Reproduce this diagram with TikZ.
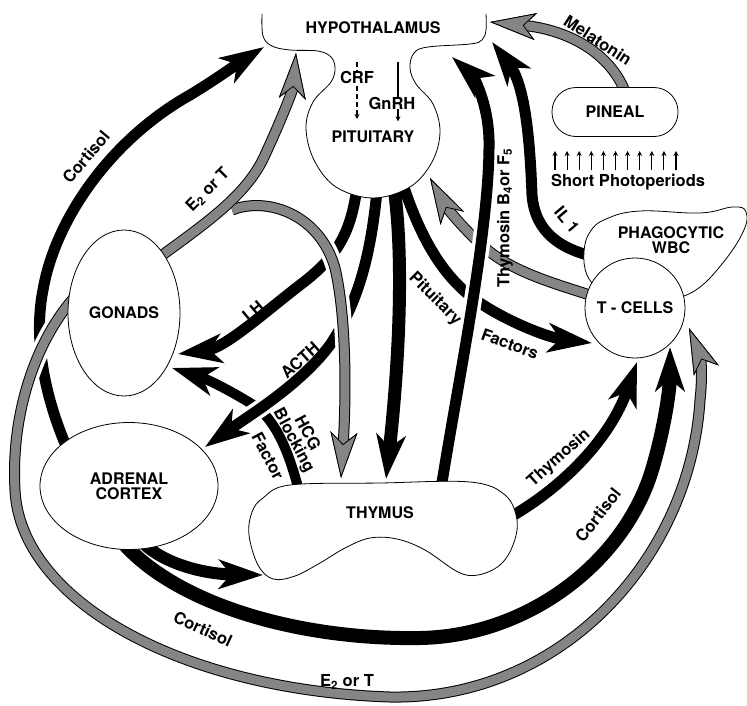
\documentclass[tikz,border=0pt]{standalone}
\usepackage{fontspec}
\setmainfont{TeX Gyre Heros}
\usetikzlibrary{arrows.meta,shapes.geometric}
\colorlet{hatch}{black!48}

\begin{document}
\begin{tikzpicture}[x=1pt, y=-1pt,
  organ/.style={font=\bfseries\fontsize{16}{15}\selectfont, align=center, inner sep=0pt},
  lab/.style={font=\bfseries\fontsize{16.5}{15}\selectfont, align=center, inner sep=0pt},
  body/.style={draw, fill=white, line width=0.8pt},
  band/.style={line width=#1, -{Stealth[length=44pt, width=29pt, inset=12pt]}},
  band/.default=11pt,
  greyband/.style={line width=9pt, draw=hatch,
    -{Stealth[length=46pt, width=27pt, inset=12pt, color=black, fill=hatch, line width=0.8pt]},
    preaction={draw=black, line width=11pt, -{Stealth[length=46pt, width=27pt, inset=12pt, line width=0.8pt]}}},
  halo/.style={preaction={draw=white, line width=#1, -, shorten >=46pt}},
  halo/.default=18pt,
  tiny/.style={line width=1.1pt, -{Stealth[length=5pt, width=5pt]}}]
\useasboundingbox (0,0) rectangle (747,705);

\coordinate (cortA) at (70,455);
\coordinate (cortAtip) at (264,47);
\draw[band] (cortA) .. controls (45,400) and (33,340) .. (43,290) .. controls (55,220) and (110,140) .. (190,95) .. controls (215,80) and (240,62) .. (cortAtip);

\coordinate (outA) at (90,282);
\coordinate (outAtip) at (689,328);
\draw[halo, greyband] (outA) .. controls (45,320) and (10,400) .. (15,490) .. controls (20,600) and (180,690) .. (390,697) .. controls (560,700) and (690,560) .. (700,400) .. controls (703,375) and (700,355) .. (outAtip);

\coordinate (cortB) at (140,540);
\coordinate (cortBtip) at (263,575);
\draw[band=12pt] (cortB) .. controls (160,562) and (200,574) .. (cortBtip);
\coordinate (cortC) at (125,545);
\coordinate (cortCtip) at (670,347);
\draw[band=14pt] (cortC) .. controls (180,605) and (300,640) .. (420,638) .. controls (530,636) and (625,560) .. (652,470) .. controls (664,430) and (670,390) .. (cortCtip);

\coordinate (hcg) at (300,495);
\coordinate (hcgtip) at (172,368);
\draw[band=10pt] (hcg) .. controls (290,455) and (278,425) .. (258,408) .. controls (240,396) and (210,380) .. (hcgtip);

\coordinate (lh) at (358,180);
\coordinate (lhtip) at (178,354);
\draw[band] (lh) .. controls (352,230) and (340,255) .. (300,285) .. controls (265,312) and (225,348) .. (lhtip);

\coordinate (acth) at (378,180);
\coordinate (acthtip) at (205,447);
\draw[halo, band] (acth) .. controls (372,250) and (360,300) .. (330,345) .. controls (300,385) and (250,415) .. (acthtip);

\coordinate (fork) at (232,210);
\coordinate (forktip) at (341,478);
\draw[halo, greyband] (fork) .. controls (268,196) and (320,215) .. (335,268) .. controls (347,320) and (346,400) .. (forktip);

\coordinate (est) at (145,268);
\coordinate (esttip) at (296,53);
\draw[greyband] (est) .. controls (195,230) and (245,200) .. (265,155) .. controls (282,118) and (293,90) .. (esttip);

\coordinate (pitthy) at (393,180);
\coordinate (pitthytip) at (386,479);
\draw[band=13pt] (pitthy) .. controls (407,270) and (395,400) .. (pitthytip);

\coordinate (fac) at (400,175);
\coordinate (factip) at (592,343);
\draw[band] (fac) .. controls (420,240) and (445,280) .. (480,303) .. controls (510,323) and (550,338) .. (factip);

\coordinate (tcpit) at (605,300);
\coordinate (tcpittip) at (430,178);
\draw[greyband] (tcpit) .. controls (560,285) and (520,275) .. (490,252) .. controls (465,232) and (445,205) .. (tcpittip);

\coordinate (tb) at (440,495);
\coordinate (tbtip) at (452,57);
\draw[halo, band] (tb) .. controls (458,380) and (490,230) .. (489,140) .. controls (488,100) and (472,75) .. (tbtip);

\coordinate (il) at (600,258);
\coordinate (iltip) at (492,42);
\draw[band] (il) .. controls (560,250) and (535,232) .. (532,195) .. controls (530,140) and (525,85) .. (iltip);

\coordinate (mel) at (628,100);
\coordinate (meltip) at (490,22);
\draw[greyband] (mel) .. controls (615,55) and (570,30) .. (meltip);

\coordinate (thm) at (505,520);
\coordinate (thmtip) at (637,362);
\draw[band] (thm) .. controls (560,490) and (610,440) .. (thmtip);

\draw[body] plot[smooth, tension=0.6] coordinates {(262,14) (263,36) (272,46) (290,50) (318,51) (331,57) (335,68) (331,82) (313,102) (306,128) (314,160) (336,187) (373,198) (410,187) (432,162) (440,132) (433,104) (416,84) (410,68) (414,53) (428,47) (470,44) (482,40) (486,30) (486,14)};
\draw[body] plot[smooth cycle, tension=0.6] coordinates {(263,498) (290,485) (380,483) (470,482) (505,495) (517,520) (513,545) (500,565) (478,575) (458,572) (425,550) (397,539) (370,538) (345,548) (320,563) (295,576) (273,579) (258,565) (249,535) (252,512)};
\draw[body] plot[smooth, tension=0.7] coordinates {(600,292) (587,275) (584,252) (590,232) (606,219) (640,211) (700,213) (733,207) (746,212) (743,232) (722,264) (696,290) (670,300)};

\node[organ, body, ellipse, minimum width=112pt, minimum height=166pt] (gon) at (124,313) {GONADS};
\node[organ, body, ellipse, minimum width=178pt, minimum height=127pt] (adr) at (129,486) {ADRENAL\\CORTEX};
\node[organ, body, rectangle, rounded corners=24pt, minimum width=126pt, minimum height=49pt] (pin) at (615,112) {PINEAL};
\node[organ, body, circle, minimum size=100pt] (tc) at (635,308) {T - CELLS};
\node[organ] (wbc) at (671,240) {PHAGOCYTIC\\WBC};
\node[organ] (hyp) at (373,28) {HYPOTHALAMUS};
\node[organ] (pit) at (373,137) {PITUITARY};
\node[organ] (thy) at (380,513) {THYMUS};

\coordinate (ctop) at (357,62);
\draw[tiny, dashed, dash pattern=on 5pt off 3pt] (ctop) -- (357,119);
\node[lab, fill=white] (crf) at (357,77) {CRF};
\node[lab] (gnrh) at (392,103) {GnRH};
\coordinate (gtop) at (398,62);
\draw[line width=1.1pt] (gtop) -- (gtop |- gnrh.north);
\draw[tiny] (gnrh.south -| gtop) -- ++(0,12);

\foreach \i in {0,...,10}
  \draw[tiny] (555+12.1*\i,170) -- (555+12.1*\i,151);
\node[lab] (sp) at (628,182) {Short Photoperiods};

\node[lab, rotate=50] (l1) at (86,157) {Cortisol};
\node[lab, rotate=45] (l2) at (208,190) {E\textsubscript{2} or T};
\node[lab, rotate=40] (l3) at (253,311) {LH};
\node[lab, rotate=42] (l4) at (300,360) {ACTH};
\node[lab, rotate=-62] (l5) at (300,437) {HCG\\Blocking};
\node[lab, rotate=-62] (l6) at (268,456) {Factor};
\node[lab, rotate=-45] (l7) at (435,299) {Pituitary};
\node[lab, rotate=-20] (l8) at (510,344) {Factors};
\node[lab, rotate=90] (l9) at (505,218) {Thymosin B\textsubscript{4}or F\textsubscript{5}};
\node[lab, rotate=-50] (l10) at (567,220) {IL 1};
\node[lab, rotate=-33] (l11) at (598,40) {Melatonin};
\node[lab, rotate=42] (l12) at (559,458) {Thymosin};
\node[lab, rotate=52] (l13) at (598,515) {Cortisol};
\node[lab, rotate=-25] (l14) at (203,629) {Cortisol};
\node[lab] (l15) at (347,682) {E\textsubscript{2} or T};
\end{tikzpicture}
\end{document}
